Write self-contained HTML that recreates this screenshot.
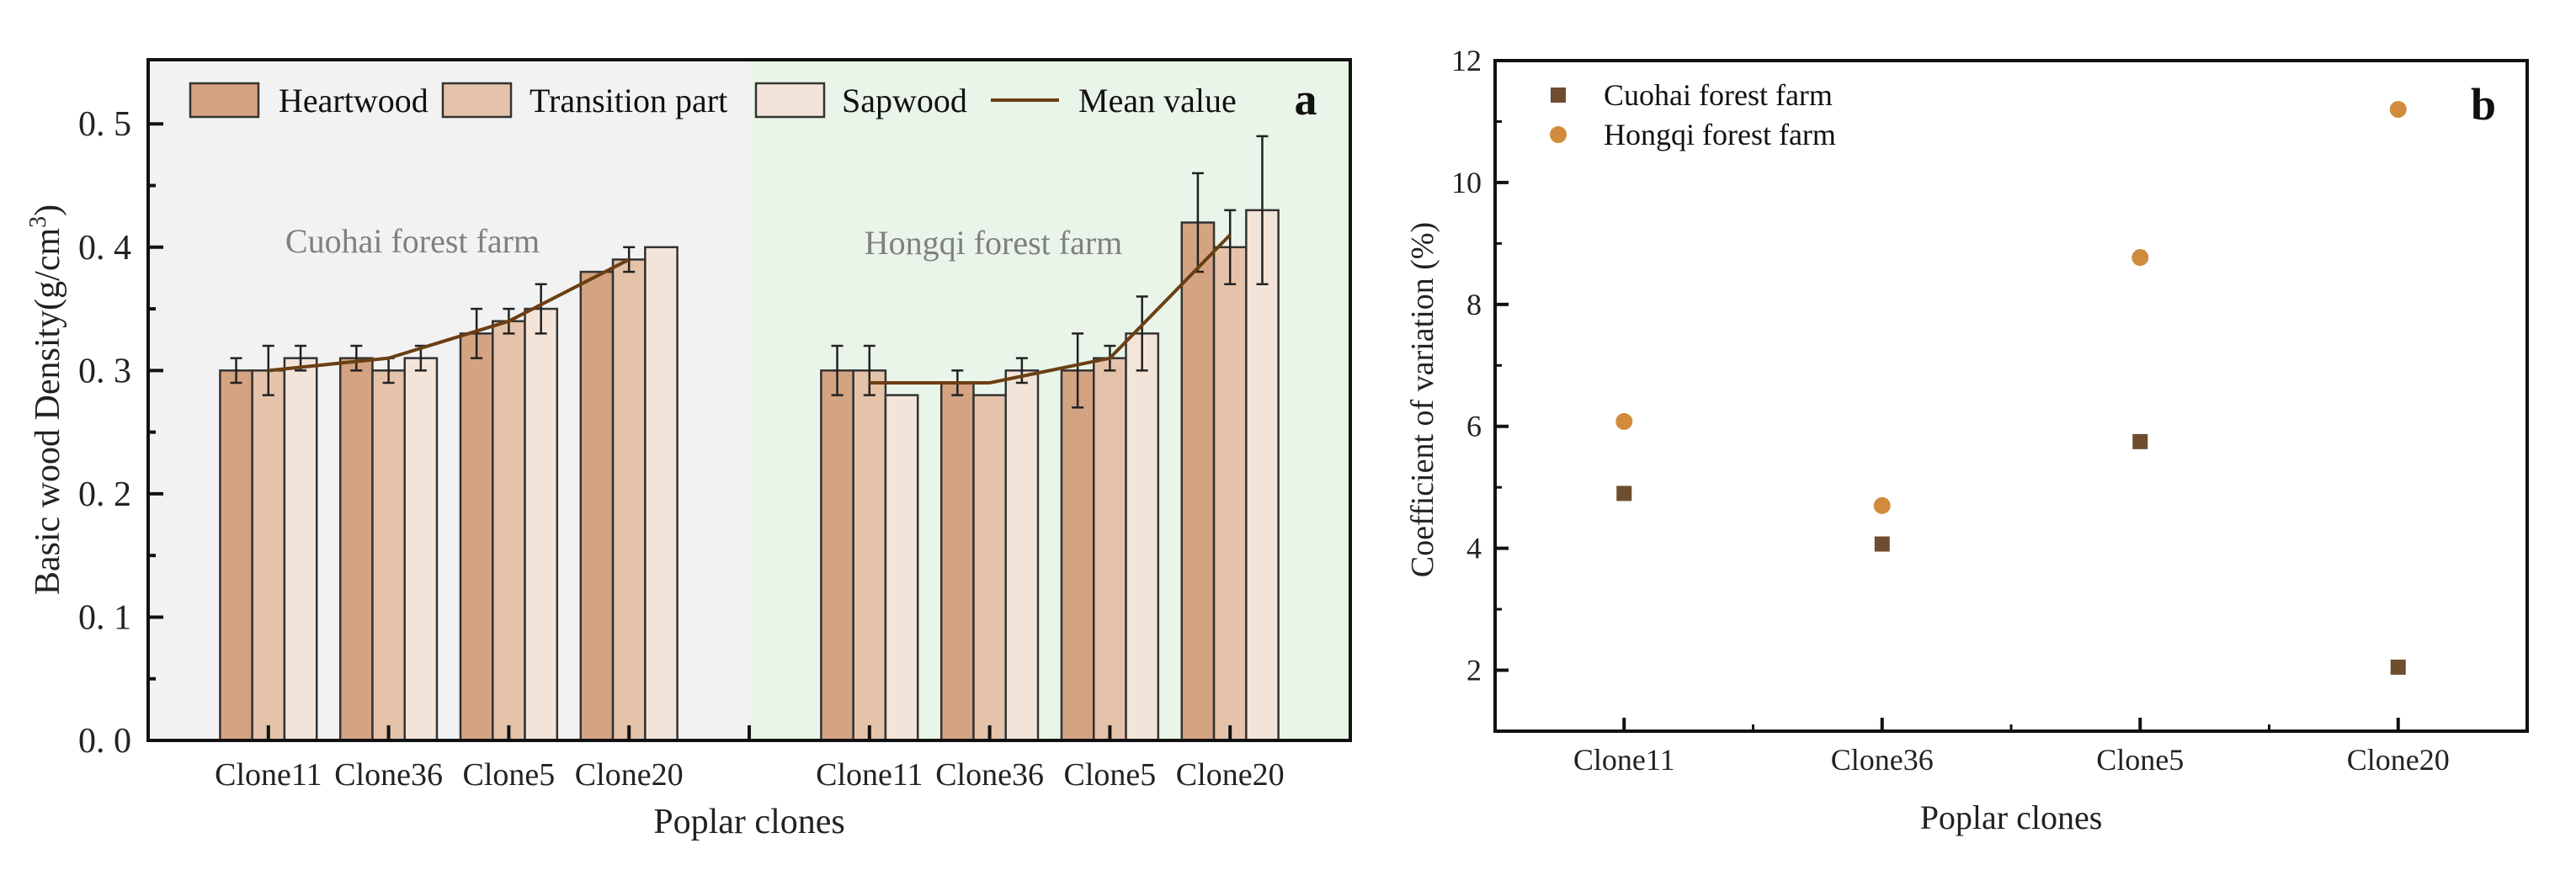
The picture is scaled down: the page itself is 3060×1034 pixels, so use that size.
<!DOCTYPE html>
<html><head><meta charset="utf-8"><style>
html,body{margin:0;padding:0;background:#fff;}
svg{display:block;font-family:"Liberation Serif",serif;}
</style></head><body>
<svg id="fig" width="3060" height="1034" viewBox="0 0 3060 1034" xmlns="http://www.w3.org/2000/svg">
<g id="chartA"></g>
<g id="chartB"></g>
</svg>
<script>
// ---------- Chart a data ----------
const clonesA = ["Clone11","Clone36","Clone5","Clone20"];
const farmsA = ["Cuohai forest farm","Hongqi forest farm"];
const partsA = ["Heartwood","Transition part","Sapwood"];
const cuohaiHeart = [0.30,0.31,0.33,0.38];
const cuohaiTrans = [0.30,0.30,0.34,0.39];
const cuohaiSap   = [0.31,0.31,0.35,0.40];
const cuohaiHeartErr = [0.01,0.01,0.02,0];
const cuohaiTransErr = [0.02,0.01,0.01,0.01];
const cuohaiSapErr   = [0.01,0.01,0.02,0];
const cuohaiMean = [0.30,0.31,0.34,0.39];
const hongqiHeart = [0.30,0.29,0.30,0.42];
const hongqiTrans = [0.30,0.28,0.31,0.40];
const hongqiSap   = [0.28,0.30,0.33,0.43];
const hongqiHeartErr = [0.02,0.01,0.03,0.04];
const hongqiTransErr = [0.02,0,0.01,0.03];
const hongqiSapErr   = [0,0.01,0.03,0.06];
const hongqiMean = [0.29,0.29,0.31,0.41];
const yTicksA = [0.0,0.1,0.2,0.3,0.4,0.5];
// ---------- Chart b data ----------
const clonesB = ["Clone11","Clone36","Clone5","Clone20"];
const cuohaiCV = [4.9,4.07,5.75,2.05];
const hongqiCV = [6.08,4.7,8.77,11.2];
const yTicksB = [2,4,6,8,10,12];

const NS="http://www.w3.org/2000/svg";
function mk(parent,tag,attrs,text){const e=document.createElementNS(NS,tag);for(const k in attrs)e.setAttribute(k,attrs[k]);if(text!==undefined)e.textContent=text;parent.appendChild(e);return e;}

// ---------- Chart a ----------
(function(){
const g=document.getElementById('chartA');
const L=176,R=1604,T=71,B=880;
const xA=v=>L+(v)*(R-L)/10;
const yA=v=>B-(v)*(B-T)/0.552;
let e;
e=mk(g,'rect',{x:L,y:T,width:xA(5)-L,height:B-T,fill:'#f2f2f2'});


e=mk(g,'rect',{x:xA(5),y:T,width:R-xA(5),height:B-T,fill:'#eaf5e9'});


const fills=['#d4a382','#e5c3aa','#f3e4d9'];
const sets=[[cuohaiHeart,cuohaiTrans,cuohaiSap],[hongqiHeart,hongqiTrans,hongqiSap]];
const errs=[[cuohaiHeartErr,cuohaiTransErr,cuohaiSapErr],[hongqiHeartErr,hongqiTransErr,hongqiSapErr]];
const means=[cuohaiMean,hongqiMean];
const bw=0.268;
for(let f=0;f<2;f++){
  for(let c=0;c<clonesA.length;c++){
    const pos=1+c+f*5;
    for(let p=0;p<3;p++){
      const v=sets[f][p][c];
      const x0=xA(pos-1.5*bw+p*bw);
      e=mk(g,'rect',{x:x0,y:yA(v),width:xA(pos+bw)-xA(pos),height:yA(0)-yA(v),fill:fills[p],stroke:'#333',"stroke-width":2.5});
      
      
    }
  }
}
for(let f=0;f<2;f++){
  for(let c=0;c<clonesA.length;c++){
    const pos=1+c+f*5;
    for(let p=0;p<3;p++){
      const v=sets[f][p][c],er=errs[f][p][c];
      if(!er)continue;
      const cx=xA(pos-bw+p*bw);
      const eg=mk(g,'g',{stroke:'#222',"stroke-width":2.5});
      
      
      mk(eg,'line',{x1:cx,x2:cx,y1:yA(v-er),y2:yA(v+er)});
      mk(eg,'line',{x1:cx-7,x2:cx+7,y1:yA(v-er),y2:yA(v-er)});
      mk(eg,'line',{x1:cx-7,x2:cx+7,y1:yA(v+er),y2:yA(v+er)});
    }
  }
  const pts=means[f].map((m,c)=>xA(1+c+f*5)+','+yA(m)).join(' ');
  e=mk(g,'polyline',{points:pts,fill:'none',stroke:'#6b3f14',"stroke-width":4});
  
  
}
e=mk(g,'rect',{x:L,y:T,width:R-L,height:B-T,fill:'none',stroke:'#111',"stroke-width":4});


yTicksA.forEach(t=>{
  mk(g,'line',{x1:L,x2:L+18,y1:yA(t),y2:yA(t),stroke:'#111',"stroke-width":4});
  e=mk(g,'text',{x:L-20,y:yA(t)+14,"text-anchor":'end',"font-size":42,fill:'#222'},t.toFixed(1).replace('.', '. '));
  
  
  if(t<0.5) mk(g,'line',{x1:L,x2:L+9,y1:yA(t+0.05),y2:yA(t+0.05),stroke:'#111',"stroke-width":4});
});
for(let i=1;i<=9;i++){
  mk(g,'line',{x1:xA(i),x2:xA(i),y1:B,y2:B-18,stroke:'#111',"stroke-width":4});
}
for(let f=0;f<2;f++)clonesA.forEach((c,i)=>{
  e=mk(g,'text',{x:xA(1+i+f*5),y:933,"text-anchor":'middle',"font-size":38,fill:'#222'},c);
  
  
});
e=mk(g,'text',{x:xA(5),y:990,"text-anchor":'middle',"font-size":42,fill:'#222'},'Poplar clones');


const yt=mk(g,'text',{transform:'translate(70,475) rotate(-90)',"text-anchor":'middle',"font-size":42,fill:'#222'});


yt.innerHTML='Basic wood Density(g/cm<tspan dy="-16" font-size="28">3</tspan><tspan dy="16">)</tspan>';
e=mk(g,'text',{x:490,y:300,"text-anchor":'middle',"font-size":40,fill:'#808080'},farmsA[0]);


e=mk(g,'text',{x:1180,y:302,"text-anchor":'middle',"font-size":40,fill:'#808080'},farmsA[1]);


const lg=mk(g,'g',{});


const lx=[[226,331],[526,629],[898,1000]];
partsA.forEach((p,i)=>{
  const it=mk(lg,'g',{});
  
  
  mk(it,'rect',{x:lx[i][0],y:99,width:81,height:40,fill:fills[i],stroke:'#333',"stroke-width":2.5});
  mk(it,'text',{x:lx[i][1],y:133,"font-size":40,fill:'#111'},p);
});
const im=mk(lg,'g',{});


mk(im,'line',{x1:1177,x2:1258,y1:119,y2:119,stroke:'#6b3f14',"stroke-width":4});
mk(im,'text',{x:1281,y:133,"font-size":40,fill:'#111'},'Mean value');
e=mk(g,'text',{x:1551,y:136,"text-anchor":'middle',"font-size":54,"font-weight":'bold',fill:'#111'},'a');


})();

// ---------- Chart b ----------
(function(){
const g=document.getElementById('chartB');
const L=1776,R=3002,T=72,B=869;
const xB=v=>L+(v-0.5)*(R-L)/4;
const yB=v=>B-(v-1)*(B-T)/11;
let e;
e=mk(g,'rect',{x:L,y:T,width:R-L,height:B-T,fill:'none',stroke:'#111',"stroke-width":4});


yTicksB.forEach(t=>{
  mk(g,'line',{x1:L,x2:L+16,y1:yB(t),y2:yB(t),stroke:'#111',"stroke-width":4});
  mk(g,'line',{x1:L,x2:L+8,y1:yB(t-1),y2:yB(t-1),stroke:'#111',"stroke-width":3});
  e=mk(g,'text',{x:L-16,y:yB(t)+12,"text-anchor":'end',"font-size":36,fill:'#222'},String(t));
  
  
});
clonesB.forEach((c,i)=>{
  mk(g,'line',{x1:xB(i+1),x2:xB(i+1),y1:B,y2:B-16,stroke:'#111',"stroke-width":4});
  if(i<3) mk(g,'line',{x1:xB(i+1.5),x2:xB(i+1.5),y1:B,y2:B-8,stroke:'#111',"stroke-width":3});
  e=mk(g,'text',{x:xB(i+1),y:915,"text-anchor":'middle',"font-size":36,fill:'#222'},c);
  
  
});
e=mk(g,'text',{x:(L+R)/2,y:985,"text-anchor":'middle',"font-size":40,fill:'#222'},'Poplar clones');


e=mk(g,'text',{transform:'translate(1702,475) rotate(-90)',"text-anchor":'middle',"font-size":38,fill:'#222'},'Coefficient of variation (%)');


cuohaiCV.forEach((v,i)=>{
  e=mk(g,'rect',{x:xB(i+1)-9,y:yB(v)-9,width:18,height:18,fill:'#6e4e2e'});
  
  
});
hongqiCV.forEach((v,i)=>{
  e=mk(g,'circle',{cx:xB(i+1),cy:yB(v),r:10,fill:'#d08c3c'});
  
  
});
const lg=mk(g,'g',{});


const l1=mk(lg,'g',{});


mk(l1,'rect',{x:1842,y:104,width:18,height:18,fill:'#6e4e2e'});
mk(l1,'text',{x:1905,y:125,"font-size":36,fill:'#111'},'Cuohai forest farm');
const l2=mk(lg,'g',{});


mk(l2,'circle',{cx:1851,cy:160,r:10,fill:'#d08c3c'});
mk(l2,'text',{x:1905,y:172,"font-size":36,fill:'#111'},'Hongqi forest farm');
e=mk(g,'text',{x:2950,y:142,"text-anchor":'middle',"font-size":54,"font-weight":'bold',fill:'#111'},'b');


})();
</script>
</body></html>
